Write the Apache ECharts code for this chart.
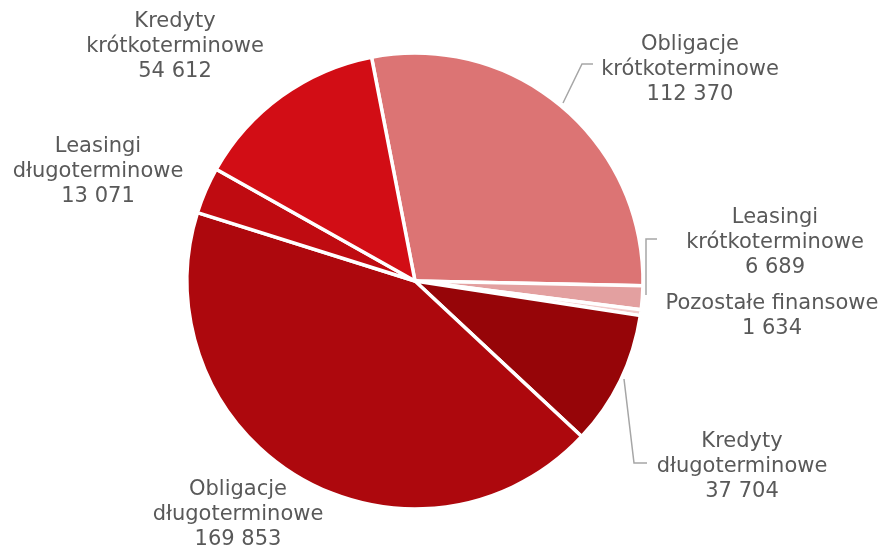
<!DOCTYPE html>
<html>
<head>
<meta charset="utf-8">
<script src="https://cdn.jsdelivr.net/npm/echarts@6/dist/echarts.min.js"></script>
<style>
  html, body { margin: 0; padding: 0; background: #fff; }
  #chart { width: 881px; height: 548px; }
</style>
</head>
<body>
<div id="chart"></div>
<script>
  // kategorie zadłużenia (w kolejności zgodnej z ruchem wskazówek zegara)
  const categories = [
    'Obligacje\nkrótkoterminowe',
    'Leasingi\nkrótkoterminowe',
    'Pozostałe finansowe',
    'Kredyty\ndługoterminowe',
    'Obligacje\ndługoterminowe',
    'Leasingi\ndługoterminowe',
    'Kredyty\nkrótkoterminowe'
  ]
  const values = [112370, 6689, 1634, 37704, 169853, 13071, 54612]
  const colors = ['#DC7474', '#E3A0A0', '#F2CCCC', '#960508', '#AD080D', '#BF0B11', '#D20D15']

  // położenia etykiet (środek bloku tekstu) i linie odniesienia
  const labelPos = [
    [690, 70], [775, 243], [772, 316], [742, 467], [238, 515], [98, 172], [175, 47]
  ]
  const linePts = [
    [[563, 103], [582, 64], [593, 64]],
    [[646, 295], [646, 239], [657, 239]],
    null,
    [[624, 379], [634, 463], [647, 463]],
    null, null, null
  ]

  const fmt = v => String(v).replace(/\B(?=(\d{3})+(?!\d))/g, ' ')

  const chart = echarts.init(document.getElementById('chart'))
  const option = {
    animation: false,
    series: [
      {
        type: 'pie',
        center: [415, 281],
        radius: 228,
        startAngle: 101,
        clockwise: true,
        avoidLabelOverlap: false,
        itemStyle: {
          borderColor: '#fff',
          borderWidth: 3.5
        },
        label: {
          show: true,
          position: 'outside',
          color: '#595959',
          fontFamily: 'DejaVu Sans',
          fontSize: 21,
          lineHeight: 25,
          align: 'center',
          formatter: p => p.name + '\n' + fmt(p.value)
        },
        labelLine: {
          show: true,
          length: 10,
          length2: 10,
          lineStyle: { color: '#A6A6A6', width: 1.5 }
        },
        labelLayout: function (params) {
          const i = params.dataIndex
          const res = {
            x: labelPos[i][0],
            y: labelPos[i][1],
            align: 'center',
            verticalAlign: 'middle'
          }
          if (linePts[i]) res.labelLinePoints = linePts[i]
          return res
        },
        emphasis: { disabled: true },
        data: categories.map((c, i) => ({
          name: c,
          value: values[i],
          itemStyle: { color: colors[i] },
          labelLine: { show: !!linePts[i] }
        }))
      }
    ]
  }
  chart.setOption(option)
</script>
</body>
</html>
